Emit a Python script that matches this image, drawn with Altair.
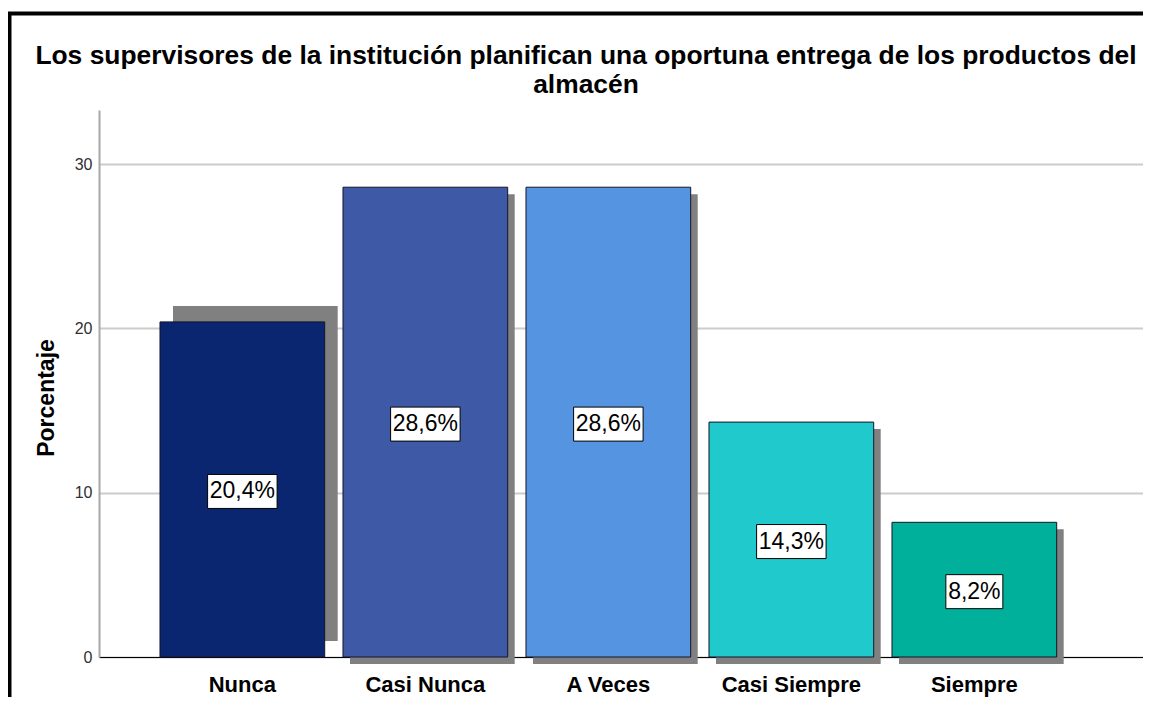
import altair as alt
import pandas as pd

# ---- data ----
categories = ["Nunca", "Casi Nunca", "A Veces", "Casi Siempre", "Siempre"]
percentages = [20.4, 28.6, 28.6, 14.3, 8.2]
bar_colors = ["#0b2670", "#3e5aa7", "#5594e0", "#1fc9cc", "#00b09b"]
y_ticks = [0, 10, 20, 30]
title_lines = [
    "Los supervisores de la institución planifican una oportuna entrega de los productos del",
    "almacén",
]
y_title = "Porcentaje"

df = pd.DataFrame({"cat": categories, "value": percentages})

FONT = "Liberation Sans"
W, H = 1044, 547

x_scale = alt.Scale(domain=categories, paddingInner=0.1, paddingOuter=0.40246, align=0.4141)
y_scale = alt.Scale(domain=[0, 33.3], nice=False)

x_axis = alt.Axis(
    title=None, labelAngle=0, labelFont=FONT, labelFontSize=22, labelFontWeight="bold",
    labelColor="black", labelPadding=17, ticks=False, tickSize=0, domainColor="black",
    domainWidth=1, grid=False,
)
y_axis = alt.Axis(
    values=y_ticks, title=y_title, titleFont=FONT, titleFontSize=23, titleFontWeight="bold",
    titleColor="black", titleX=-46, titleY=287.5, titleAlign="center", titleBaseline="alphabetic",
    titleAngle=270, labelFont=FONT, labelFontSize=16, labelColor="#303030", labelPadding=7,
    ticks=False, tickSize=0, domainColor="#a8a8a8", domainWidth=2, gridColor="#cccccc",
    gridWidth=2, grid=True,
)


def X():
    return alt.X("cat:N", scale=x_scale, sort=categories, axis=x_axis)


def Y(field):
    return alt.Y(field, scale=y_scale, axis=y_axis)


base = alt.Chart(df)

border = alt.Chart(alt.Data(values=[{"b": 1}])).mark_rect(
    filled=False, stroke="black", strokeWidth=4
).encode(
    x=alt.value(-89.5), x2=alt.value(W + 60), y=alt.value(-96.5), y2=alt.value(H + 80)
)

shadow_first = base.transform_filter(alt.datum.cat == categories[0]).mark_bar(
    color="#808080", xOffset=13, x2Offset=13, yOffset=-16, y2Offset=-16
).encode(x=X(), y=Y("value:Q"))

shadow_rest = base.transform_filter(alt.datum.cat != categories[0]).mark_bar(
    color="#808080", xOffset=7, x2Offset=7, yOffset=7, y2Offset=7
).encode(x=X(), y=Y("value:Q"))

bars = base.mark_bar(stroke="#14142a", strokeWidth=1, opacity=1).encode(
    x=X(),
    y=Y("value:Q"),
    color=alt.Color("cat:N", scale=alt.Scale(domain=categories, range=bar_colors), legend=None),
)

labelled = base.transform_calculate(
    mid="datum.value / 2",
    label="replace(format(datum.value, '.1f'), '.', ',') + '%'",
).transform_calculate(boxw="12.5 * length(datum.label) + 7")

boxes = labelled.mark_tick(
    thickness=34, color="white", stroke="black", strokeWidth=1, opacity=1, yOffset=2
).encode(x=X(), y=Y("mid:Q"), size=alt.Size("boxw:Q", scale=None, legend=None))

texts = labelled.mark_text(
    font=FONT, fontSize=23, color="black", baseline="middle", align="center", yOffset=2
).encode(x=X(), y=Y("mid:Q"), text="label:N")

chart = alt.layer(border, shadow_first, shadow_rest, bars, boxes, texts).properties(
    width=W,
    height=H,
    padding={"left": 91, "top": 102, "right": 0, "bottom": 40},
    autosize="none",
    background="white",
    title=alt.TitleParams(
        text=title_lines, font=FONT, fontSize=26.4, fontWeight="bold", color="black",
        anchor="middle", frame="group", dx=-35, dy=107.5, offset=0, lineHeight=28.5,
        baseline="alphabetic",
    ),
).configure_view(strokeWidth=0)

chart.save("out.html", embed_options={"renderer": "svg", "actions": False})
